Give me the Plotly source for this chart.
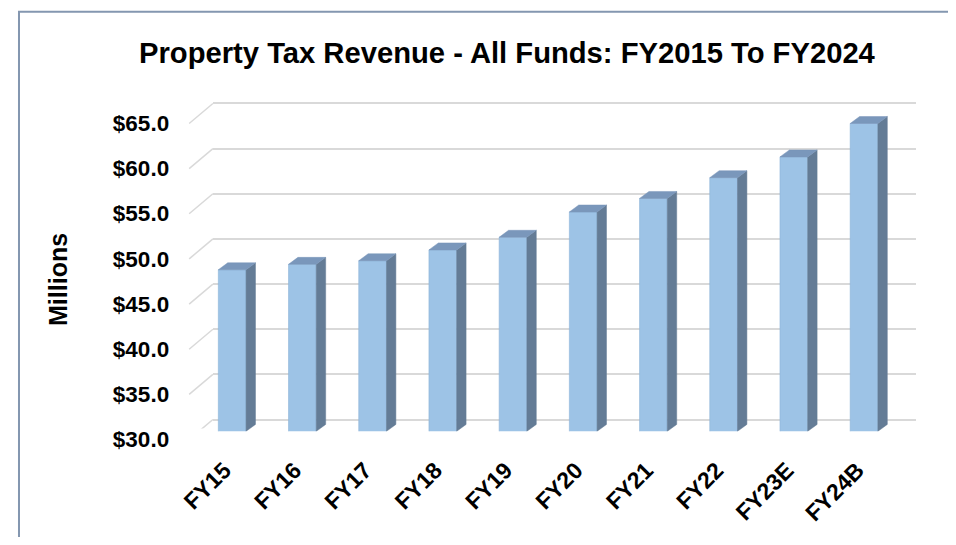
import plotly.graph_objects as go

# ---- data ----
categories = ["FY15", "FY16", "FY17", "FY18", "FY19", "FY20", "FY21", "FY22", "FY23E", "FY24B"]
revenue = [47.9, 48.5, 48.9, 50.1, 51.5, 54.3, 55.8, 58.1, 60.4, 64.1]
tick_values = [30, 35, 40, 45, 50, 55, 60, 65]
tick_labels = ["$30.0", "$35.0", "$40.0", "$45.0", "$50.0", "$55.0", "$60.0", "$65.0"]
title_text = "Property Tax Revenue - All Funds: FY2015 To FY2024"
y_title = "Millions"

# ---- page geometry (the page body keeps its default 8px margin) ----
OFF = 8
W, H = 956 - 2 * OFF, 545 - 2 * OFF


def px(x):
    return (x - OFF) / W


def py(y):
    return 1 - (y - OFF) / H


FONT = "Arial, Liberation Sans, sans-serif"
FRONT = "#9DC3E6"
SIDE = "#647C96"
TOP = "#7A97BB"
GRID = "#D9D9D9"

BAR_W = 0.395          # bar width in category units
DEPTH_X = 0.134        # bar depth offset (category units)
DEPTH_Y = 0.77         # bar depth offset (value units)
BASE = 30

fig = go.Figure()

# back wall gridlines (axis x / y)
fig.add_trace(go.Scatter(x=[None], y=[None], xaxis="x", yaxis="y", showlegend=False, hoverinfo="skip"))

# bar front faces
idx = list(range(len(categories)))
fig.add_trace(go.Bar(
    x=idx, y=revenue, width=BAR_W, xaxis="x2", yaxis="y2",
    marker=dict(color=FRONT, line=dict(color="#8DB3D8", width=0.6)),
    showlegend=False, hovertext=categories,
))

# side faces and top faces derived from the data
sx, sy, tx, ty = [], [], [], []
for i, v in zip(idx, revenue):
    xl, xr = i - BAR_W / 2, i + BAR_W / 2
    sx += [xr, xr, xr + DEPTH_X, xr + DEPTH_X, xr, None]
    sy += [BASE, v, v + DEPTH_Y, BASE + DEPTH_Y, BASE, None]
    tx += [xl, xr, xr + DEPTH_X, xl + DEPTH_X, xl, None]
    ty += [v, v, v + DEPTH_Y, v + DEPTH_Y, v, None]
fig.add_trace(go.Scatter(x=sx, y=sy, xaxis="x2", yaxis="y2", mode="lines", fill="toself",
                         fillcolor=SIDE, line=dict(color=SIDE, width=0.5), showlegend=False, hoverinfo="skip"))
fig.add_trace(go.Scatter(x=tx, y=ty, xaxis="x2", yaxis="y2", mode="lines", fill="toself",
                         fillcolor=TOP, line=dict(color=TOP, width=0.5), showlegend=False, hoverinfo="skip"))

# front plane axis for value tick labels
fig.add_trace(go.Scatter(x=[None], y=[None], xaxis="x3", yaxis="y3", showlegend=False, hoverinfo="skip"))
# axis carrying the category labels
fig.add_trace(go.Scatter(x=[None], y=[None], xaxis="x4", yaxis="y3", showlegend=False, hoverinfo="skip"))

# side-wall diagonals at each gridline
shapes = []
for tv in tick_values:
    shapes.append(dict(type="line", xref="paper", x0=px(181), x1=px(205),
                       yref="y", ysizemode="pixel", yanchor=tv, y0=-20, y1=0,
                       line=dict(color=GRID, width=1.5), layer="below"))
# outer border
shapes.append(dict(type="rect", xref="paper", yref="paper", x0=px(9), x1=1.05, y0=-0.05, y1=py(8.7),
                   line=dict(color="#8497B0", width=2)))

SLOT = 70.96
fig.update_layout(
    width=W, height=H,
    margin=dict(l=0, r=0, t=0, b=0),
    paper_bgcolor="white", plot_bgcolor="rgba(0,0,0,0)",
    font=dict(family=FONT, color="black"),
    modebar=dict(bgcolor="rgba(0,0,0,0)", color="rgba(0,0,0,0)", activecolor="rgba(0,0,0,0)"),
    shapes=shapes,
    xaxis=dict(domain=[px(205), px(916)], range=[-0.5, 9.5], showgrid=False, zeroline=False,
               showticklabels=False, showline=False),
    yaxis=dict(domain=[py(431.15), py(92.55)], range=[29, 66], tickvals=tick_values,
               showgrid=True, gridcolor=GRID, gridwidth=1.5, zeroline=False, showticklabels=False, showline=False),
    xaxis2=dict(domain=[px(224.5 - SLOT / 2), px(224.5 + 9.5 * SLOT)], range=[-0.5, 9.5], anchor="y2",
                showticklabels=False, showgrid=False, zeroline=False, showline=False),
    yaxis2=dict(domain=[py(434), py(104.6)], range=[BASE, 66], anchor="x2",
                showgrid=False, zeroline=False, showticklabels=False, showline=False),
    xaxis3=dict(domain=[px(181), px(892)], range=[-0.5, 9.5], anchor="y3", visible=False),
    yaxis3=dict(domain=[py(451.15), py(112.55)], range=[29, 66], anchor="x3",
                tickvals=tick_values, ticktext=tick_labels, ticks="", ticklabelstandoff=19,
                tickfont=dict(size=22.5, family=FONT, weight="bold"),
                showgrid=False, zeroline=False, showline=False),
    xaxis4=dict(domain=[px(206 - SLOT / 2), px(206 + 9.5 * SLOT)], range=[-0.5, 9.5],
                anchor="free", position=py(434), overlaying="x3",
                tickvals=idx, ticktext=categories, tickangle=-45, ticks="",
                ticklabelstandoff=20,
                tickfont=dict(size=23, family=FONT, weight="bold"),
                showgrid=False, zeroline=False, showline=False),
    annotations=[
        dict(text=title_text, xref="paper", yref="paper", x=px(503), y=py(51),
             xanchor="center", yanchor="middle", showarrow=False,
             font=dict(size=29.2, family=FONT, weight="bold", color="black")),
        dict(text=y_title, xref="paper", yref="paper", x=px(49), y=py(280),
             xanchor="center", yanchor="middle", textangle=-90, showarrow=False,
             font=dict(size=25, family=FONT, weight="bold", color="black")),
    ],
)

fig.write_html("out.html")
